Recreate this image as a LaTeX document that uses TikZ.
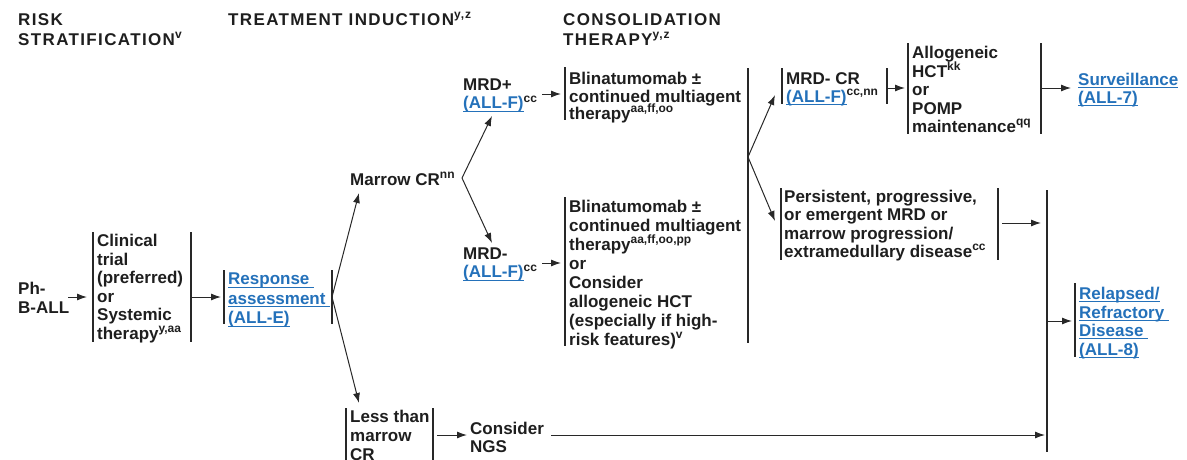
\documentclass[tikz,border=0pt]{standalone}
\usepackage{fontspec}
\setmainfont{Liberation Sans}
\newfontfamily\hdrfont[LetterSpace=8]{Liberation Sans}
\usetikzlibrary{arrows.meta}
\definecolor{ink}{RGB}{30,30,30}
\definecolor{lnkc}{RGB}{36,113,186}
\definecolor{barc}{RGB}{40,40,40}
\newcommand\sps[1]{\smash{\raisebox{0.40em}{\fontsize{12}{12}\selectfont #1}}}
\newcommand\lnk[1]{{\color{lnkc}\setbox0=\hbox{#1}\rlap{\rule[-2.6pt]{\wd0}{0.9pt}}\box0}}
\begin{document}
\begin{tikzpicture}[x=1pt,y=-1pt,
  txt/.style={anchor=north west, inner sep=0pt, align=left, font=\fontsize{17}{18.6}\selectfont\bfseries, text=ink},
  hdr/.style={anchor=north west, inner sep=0pt, align=left, font=\fontsize{17}{20}\selectfont\hdrfont\bfseries, text=ink},
  bar/.style={draw=barc, line width=1.6pt},
  arr/.style={draw=barc, line width=1pt, -{Latex[length=10pt,width=7pt]}},
  ln/.style={draw=barc, line width=1pt}]
\useasboundingbox (0,0) rectangle (1187,459);
% headers
\node[hdr] (h1) at (18,13) {RISK\\STRATIFICATION\sps{v}};
\node[hdr] (h2) at (228,13) {TREATMENT INDUCTION\sps{y,z}};
\node[hdr] (h3) at (563,13) {CONSOLIDATION\\THERAPY\sps{y,z}};
% nodes
\node[txt, font=\fontsize{17}{19}\selectfont\bfseries] (ph) at (18,282) {Ph-\\B-ALL};
\node[txt] (clin) at (97,234) {Clinical\\trial\\(preferred)\\or\\Systemic\\therapy\sps{y,aa}};
\node[txt, font=\fontsize{17}{19.5}\selectfont\bfseries] (resp) at (228,273) {\lnk{Response }\\\lnk{assessment }\\\lnk{(ALL-E)}};
\node[txt] (mcr) at (350,173) {Marrow CR\sps{nn}};
\node[txt, font=\fontsize{17}{18}\selectfont\bfseries] (mrdp) at (463,79) {MRD+\\\lnk{(ALL-F)}\sps{cc}};
\node[txt, font=\fontsize{17}{17.5}\selectfont\bfseries] (bl1) at (569,72) {Blinatumomab ±\\continued multiagent\\therapy\sps{aa,ff,oo}};
\node[txt, font=\fontsize{17}{18}\selectfont\bfseries] (mrdm) at (463,248) {MRD-\\\lnk{(ALL-F)}\sps{cc}};
\node[txt, font=\fontsize{17}{19}\selectfont\bfseries] (bl2) at (569,200) {Blinatumomab ±\\continued multiagent\\therapy\sps{aa,ff,oo,pp}\\or\\Consider\\allogeneic HCT\\(especially if high-\\risk features)\sps{v}};
\node[txt, font=\fontsize{17}{19}\selectfont\bfseries] (less) at (350,410) {Less than\\marrow\\CR};
\node[txt, font=\fontsize{17}{18}\selectfont\bfseries] (ngs) at (470,422) {Consider\\NGS};
\node[txt, font=\fontsize{17}{18}\selectfont\bfseries] (mcr2) at (786,72) {MRD- CR\\\lnk{(ALL-F)}\sps{cc,nn}};
\node[txt, font=\fontsize{17}{18.5}\selectfont\bfseries] (allo) at (912,46) {Allogeneic\\HCT\sps{kk}\\or\\POMP\\maintenance\sps{qq}};
\node[txt, font=\fontsize{17}{18}\selectfont\bfseries] (surv) at (1078,73) {\lnk{Surveillance}\\\lnk{(ALL-7)}};
\node[txt, font=\fontsize{17}{18.3}\selectfont\bfseries] (pers) at (784,190) {Persistent, progressive,\\or emergent MRD or\\marrow progression/\\extramedullary disease\sps{cc}};
\node[txt, font=\fontsize{17}{18.5}\selectfont\bfseries] (rel) at (1079,287) {\lnk{Relapsed/}\\\lnk{Refractory }\\\lnk{Disease }\\\lnk{(ALL-8)}};
% bars
\draw[bar] (93,232) -- (93,342);
\draw[bar] (191,232) -- (191,342);
\draw[bar] (224,270) -- (224,324);
\draw[bar] (332,270) -- (332,324);
\draw[bar] (565,67) -- (565,120);
\draw[bar] (565,197) -- (565,346);
\draw[bar] (748,68) -- (748,343);
\draw[bar] (346,408) -- (346,465);
\draw[bar] (433,408) -- (433,465);
\draw[bar] (782,68) -- (782,104);
\draw[bar] (887,68) -- (887,104);
\draw[bar] (908,43) -- (908,134);
\draw[bar] (1041,43) -- (1041,134);
\draw[bar] (781,188) -- (781,260);
\draw[bar] (998,188) -- (998,260);
\draw[bar] (1047,190) -- (1047,452);
\draw[bar] (1075,283) -- (1075,357);
% connector end points
\coordinate (phR) at (68,297);   \coordinate (clinL) at (87,297);
\coordinate (clinR) at (191,297); \coordinate (respL) at (221,297);
\coordinate (respR) at (332,297);
\coordinate (mcrB) at (359,193); \coordinate (lessT) at (359,403);
\coordinate (mcrR) at (462,178);
\coordinate (mrdpB) at (492,116); \coordinate (mrdmT) at (492,243);
\coordinate (mrdpR) at (542,94); \coordinate (bl1L) at (561,94);
\coordinate (mrdmR) at (542,263); \coordinate (bl2L) at (561,263);
\coordinate (consR) at (748,157);
\coordinate (mcr2L) at (775,95); \coordinate (persL) at (775,221);
\coordinate (mcr2R) at (888,88); \coordinate (alloL) at (905,88);
\coordinate (alloR) at (1041,88); \coordinate (survL) at (1071,88);
\coordinate (persR) at (1002,223); \coordinate (bigA) at (1041,223);
\coordinate (bigR) at (1047,321); \coordinate (relL) at (1072,321);
\coordinate (lessR) at (437,435); \coordinate (ngsL) at (467,435);
\coordinate (ngsR) at (551,435); \coordinate (bigB) at (1045,435);
% connectors
\draw[arr] (phR) -- (clinL);
\draw[arr] (clinR) -- (respL);
\draw[arr] (respR) -- (mcrB);
\draw[arr] (respR) -- (lessT);
\draw[arr] (mcrR) -- (mrdpB);
\draw[arr] (mcrR) -- (mrdmT);
\draw[arr] (mrdpR) -- (bl1L);
\draw[arr] (mrdmR) -- (bl2L);
\draw[arr] (consR) -- (mcr2L);
\draw[arr] (consR) -- (persL);
\draw[arr] (mcr2R) -- (alloL);
\draw[arr] (alloR) -- (survL);
\draw[arr] (persR) -- (bigA);
\draw[arr] (bigR) -- (relL);
\draw[arr] (lessR) -- (ngsL);
\draw[arr] (ngsR) -- (bigB);
\end{tikzpicture}
\end{document}
